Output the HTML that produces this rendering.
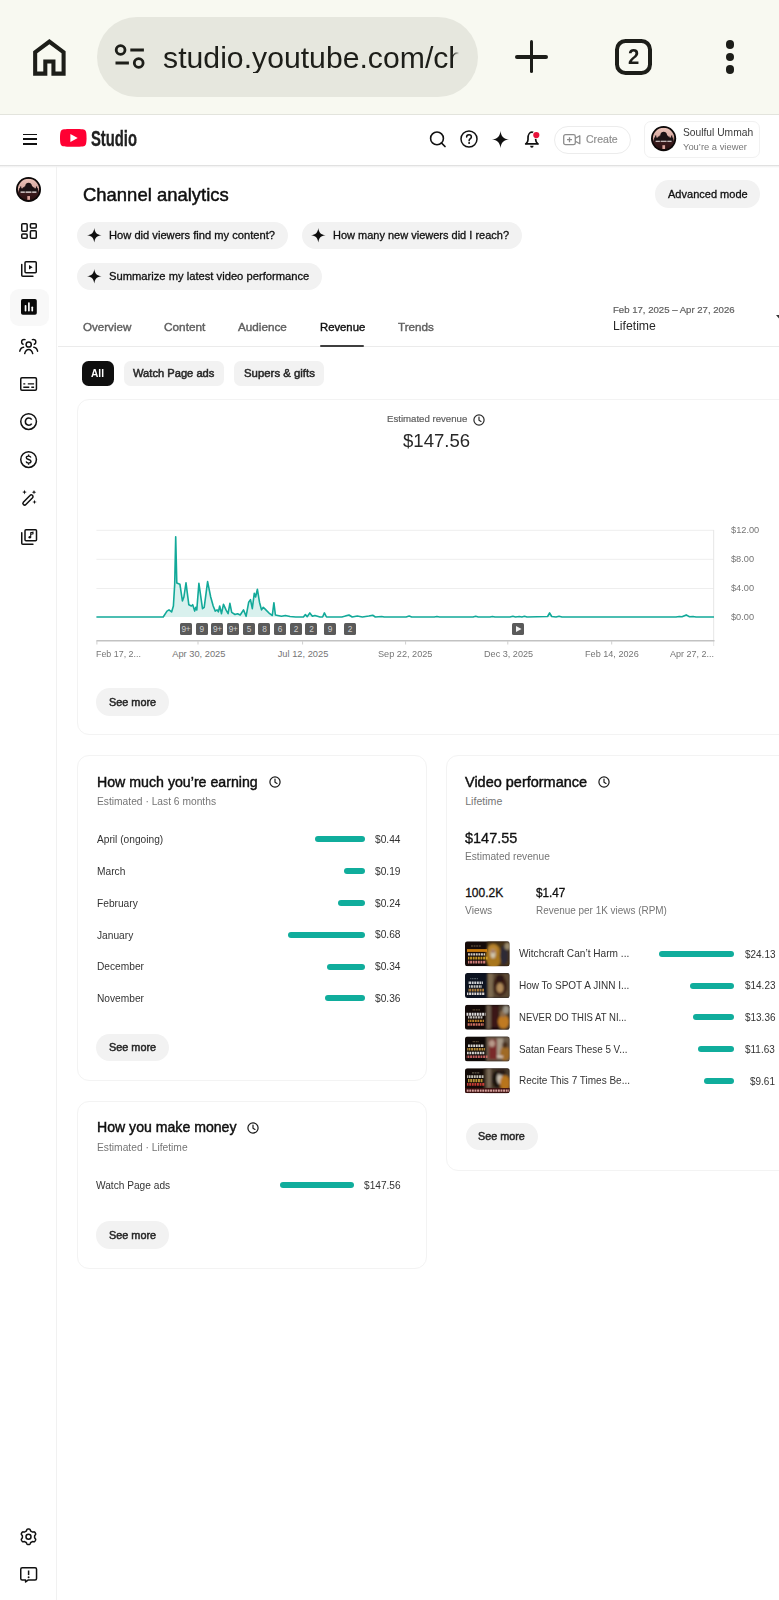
<!DOCTYPE html>
<html><head><meta charset="utf-8">
<style>
html,body{margin:0;padding:0;}
body{width:779px;height:1600px;overflow:hidden;background:#fff;font-family:"Liberation Sans",sans-serif;color:#0f0f0f;position:relative;}
.a{position:absolute;}
.t{position:absolute;white-space:pre;line-height:1;transform-origin:0 0;}
.pill{position:absolute;background:#f2f2f2;border-radius:14px;}
.card{position:absolute;border:1.5px solid #f3f3f3;border-radius:12px;background:#fff;box-sizing:border-box;}
.bar{position:absolute;height:6px;border-radius:3px;background:#10ad9c;}
.mk{position:absolute;width:12px;height:11.6px;top:623.4px;border-radius:1.5px;background:#5a5a5a;color:#cfcfcf;font-size:8.300px;line-height:13px;text-align:center;letter-spacing:-0.300px;}
svg{position:absolute;overflow:visible;}
</style></head><body>
<!-- ===== Browser chrome ===== -->
<div class="a" style="left:0;top:0;width:779px;height:114px;background:#f8f9f1;"></div>
<div class="a" style="left:0;top:113.600px;width:779px;height:2px;background:#e3e4dd;"></div>
<div class="a" style="left:97px;top:17px;width:381px;height:80px;border-radius:40px;background:#e6e7de;"></div>
<svg style="left:24.6px;top:32.9px;" width="48.75" height="48.75" viewBox="0 0 24 24"><path fill="#1d1e19" d="M6 19h3v-6h6v6h3v-9l-6-4.5L6 10v9Zm-2 2V9l8-6 8 6v12h-7v-6h-2v6H4Z"/></svg>
<svg style="left:113px;top:42px;" width="36" height="30" viewBox="0 0 36 30">
 <circle cx="7.6" cy="8" r="4.4" fill="none" stroke="#1d1e19" stroke-width="2.8"/>
 <rect x="17.3" y="6.5" width="13.6" height="3" fill="#1d1e19"/>
 <rect x="2.5" y="19.5" width="13.4" height="3" fill="#1d1e19"/>
 <circle cx="25.7" cy="21" r="4.4" fill="none" stroke="#1d1e19" stroke-width="2.8"/>
</svg>
<div class="t" style="left:163.1px;top:42.83px;font-size:30.2px;color:#1d1e19;width:296px;overflow:hidden;-webkit-mask-image:linear-gradient(90deg,#000 0,#000 290px,transparent 296px);mask-image:linear-gradient(90deg,#000 0,#000 290px,transparent 296px);">studio.youtube.com/channel</div>
<div class="a" style="left:515px;top:55px;width:33px;height:3.6px;border-radius:2px;background:#1d1e19;"></div>
<div class="a" style="left:529.7px;top:40.3px;width:3.6px;height:33px;border-radius:2px;background:#1d1e19;"></div>
<div class="a" style="left:615.100px;top:38.500px;width:36.800px;height:36.400px;border:4.200px solid #1d1e19;border-radius:10.500px;box-sizing:border-box;"></div>
<div class="t" style="left:627.900px;top:46.300px;font-size:22px;font-weight:bold;color:#1d1e19;transform:scaleX(0.92);">2</div>
<div class="a" style="left:725.8px;top:40.2px;width:8.4px;height:8.4px;border-radius:50%;background:#1d1e19;"></div>
<div class="a" style="left:725.8px;top:52.8px;width:8.4px;height:8.4px;border-radius:50%;background:#1d1e19;"></div>
<div class="a" style="left:725.8px;top:65.2px;width:8.4px;height:8.4px;border-radius:50%;background:#1d1e19;"></div>

<!-- ===== Studio header ===== -->
<div class="a" style="left:0;top:115px;width:779px;height:50px;background:#fff;"></div>
<div class="a" style="left:0;top:164.700px;width:779px;height:1.200px;background:#e1e1e1;"></div>
<div class="a" style="left:0;top:165.900px;width:779px;height:2.500px;background:linear-gradient(#f0f0f0,#ffffff);"></div>
<!-- hamburger -->
<div class="a" style="left:23px;top:133.6px;width:14px;height:1.6px;background:#111;"></div>
<div class="a" style="left:23px;top:138.4px;width:14px;height:1.6px;background:#111;"></div>
<div class="a" style="left:23px;top:143.2px;width:14px;height:1.6px;background:#111;"></div>
<!-- yt logo -->
<svg style="left:60.4px;top:129px;" width="26.6" height="17.8" viewBox="0 0 26.6 17.8">
 <path fill="#ff0033" d="M26 2.8C25.7 1.7 24.8.8 23.7.5 21.6 0 13.3 0 13.3 0S5 0 2.9.5C1.8.8.9 1.7.6 2.8 0 4.9 0 8.9 0 8.9s0 4 .6 6.1c.3 1.1 1.2 2 2.3 2.3 2.1.5 10.4.5 10.4.5s8.3 0 10.4-.5c1.100-.3 2-1.200 2.300-2.300.6-2.100.6-6.100.6-6.100s0-4-.6-6.100z"/>
 <path fill="#fff" d="M10.400 12.900 17.700 8.900 10.400 4.900z"/>
</svg>
<!-- search -->
<svg style="left:427px;top:129px;" width="20" height="20" viewBox="0 0 20 20"><circle cx="10" cy="9.400" r="6.400" fill="none" stroke="#111" stroke-width="1.600"/><path d="M14.500 14 18 17.500" stroke="#111" stroke-width="1.700" stroke-linecap="round"/></svg>
<!-- help -->
<svg style="left:459.4px;top:129.2px;" width="20" height="20" viewBox="0 0 20 20"><circle cx="10" cy="10" r="8" fill="none" stroke="#111" stroke-width="1.500"/><path d="M7.600 8c0-1.400 1.100-2.300 2.400-2.300s2.400.9 2.400 2.200c0 1.700-2.300 1.900-2.300 3.900" fill="none" stroke="#111" stroke-width="1.500" stroke-linecap="round"/><circle cx="10.100" cy="14.100" r="1" fill="#111"/></svg>
<!-- sparkle -->
<svg style="left:492px;top:130.500px;" width="17" height="17" viewBox="-8.500 -8.500 17 17"><path fill="#111" d="M0-8.500C.7-3 3-.7 8.500 0 3 .7.700 3 0 8.500-.7 3-3 .7-8.500 0-3-.7-.7-3 0-8.500z"/></svg>
<!-- bell -->
<svg style="left:522px;top:129px;" width="20" height="20" viewBox="0 0 20 20">
 <path d="M3.900 14.900C5.500 13.600 6 12.400 6 10.800V9a3.850 5.800 0 0 1 7.700 0v1.800c0 1.600.5 2.800 2.100 4.100" fill="none" stroke="#111" stroke-width="1.700" stroke-linejoin="round"/>
 <path d="M3.700 14.900H16" stroke="#111" stroke-width="1.700" stroke-linecap="round"/>
 <path d="M8.100 16.800a1.750 1.900 0 0 0 3.500 0z" fill="#111"/>
 <circle cx="14.300" cy="6.100" r="4" fill="#fff"/><circle cx="14.300" cy="6.100" r="3.100" fill="#e8113a"/>
</svg>
<!-- create -->
<div class="a" style="left:553.5px;top:125.500px;width:77px;height:28px;border:1px solid #ececec;border-radius:14px;box-sizing:border-box;"></div>
<svg style="left:563px;top:133.800px;" width="18" height="11.400" viewBox="0 0 18 11.400"><rect x=".7" y=".7" width="11.600" height="10" rx="1.800" fill="none" stroke="#8d8d8d" stroke-width="1.300"/><path d="M12.400 4.200 16.800 1.700v8L12.400 7.200" fill="none" stroke="#8d8d8d" stroke-width="1.300" stroke-linejoin="round"/><path d="M6.500 3.200v5M4 5.700h5" stroke="#8d8d8d" stroke-width="1.300"/></svg>
<!-- account -->
<div class="a" style="left:644px;top:120.500px;width:115.500px;height:37.700px;border:1px solid #f1f1f1;border-radius:7px;box-sizing:border-box;"></div>
<svg style="left:650.600px;top:126.200px;" width="25.200" height="25.200" viewBox="-12.600 -12.600 25.200 25.200">
 <defs><clipPath id="avc"><circle r="10.800"/></clipPath><linearGradient id="avg" x1="0" y1="0" x2="0" y2="1"><stop offset="0" stop-color="#ecc4ba"/><stop offset=".50" stop-color="#d3a49c"/><stop offset=".62" stop-color="#3c1c1e"/><stop offset="1" stop-color="#2a1012"/></linearGradient></defs>
 <circle r="12.600" fill="#0c0808"/>
 <g clip-path="url(#avc)"><rect x="-11" y="-11" width="22" height="22" fill="url(#avg)"/>
 <path d="M-9.500 3V-1.200h1V-3h1.200v1.800h1.600v-1h1.400v-.600c.300-.300.700-.400 1-.400v-.500c.300-2 1.600-3.100 3.400-3.100s3.100 1.100 3.400 3.100v.500c.300 0 .700.100 1 .400v.600h1.400v1h1.600V-3h1.200v1.800h1V3z" fill="#1c1214"/>
 <path d="M-8 2.600h4.300M-3 2.600h6M3.700 2.600H8" stroke="#f6ecea" stroke-width="1.100"/>
 <rect x="-1.200" y="6.600" width="2.700" height="3.800" fill="#d9a49c"/></g>
</svg>

<!-- ===== Sidebar ===== -->
<div class="a" style="left:55.600px;top:166px;width:1.600px;height:1434px;background:#f1f1f1;"></div>
<!-- avatar small -->
<svg style="left:16px;top:177.400px;" width="25" height="25" viewBox="-12.600 -12.600 25.200 25.200">
 <defs><clipPath id="avc2"><circle r="10.800"/></clipPath></defs>
 <circle r="12.600" fill="#0c0808"/>
 <g clip-path="url(#avc2)"><rect x="-11" y="-11" width="22" height="22" fill="url(#avg)"/>
 <path d="M-9.500 3V-1.200h1V-3h1.200v1.800h1.600v-1h1.400v-.600c.300-.300.700-.400 1-.400v-.500c.300-2 1.600-3.100 3.400-3.100s3.100 1.100 3.400 3.100v.500c.300 0 .700.100 1 .400v.600h1.400v1h1.600V-3h1.200v1.800h1V3z" fill="#1c1214"/>
 <path d="M-8 2.600h4.300M-3 2.600h6M3.700 2.600H8" stroke="#f6ecea" stroke-width="1.100"/>
 <rect x="-1.200" y="6.600" width="2.700" height="3.800" fill="#d9a49c"/></g>
</svg>
<!-- dashboard -->
<svg style="left:21px;top:223.200px;" width="16" height="16" viewBox="0 0 16 16" fill="none" stroke="#111" stroke-width="1.500">
 <rect x=".75" y=".75" width="5.400" height="7.600" rx="1"/><rect x="9.400" y=".75" width="5.850" height="4.300" rx="1"/>
 <rect x=".75" y="11" width="5.400" height="4.250" rx="1"/><rect x="9.400" y="7.700" width="5.850" height="7.550" rx="1"/>
</svg>
<!-- content -->
<svg style="left:21px;top:261.400px;" width="16" height="16" viewBox="0 0 16 16" fill="none" stroke="#111" stroke-width="1.500">
 <rect x="4" y=".75" width="11.250" height="11" rx="1"/><path d="M.75 3.600v10.600c0 .6.400 1 1 1h10.200" stroke-linecap="round"/>
 <path d="M8 3.900v4.700l3.600-2.350z" fill="#111" stroke="none"/>
</svg>
<!-- analytics (active) -->
<div class="a" style="left:10px;top:289px;width:39px;height:37px;border-radius:9px;background:#f8f8f8;"></div>
<svg style="left:21px;top:299.300px;" width="16" height="16" viewBox="0 0 16 16">
 <rect x="0" y="0" width="15.800" height="15.700" rx="1.800" fill="#0a0a0a"/>
 <rect x="3.700" y="6" width="1.700" height="6.500" rx=".8" fill="#fff"/><rect x="7.050" y="3.200" width="1.700" height="9.300" rx=".8" fill="#fff"/><rect x="10.400" y="7.500" width="1.700" height="5" rx=".8" fill="#fff"/>
</svg>
<!-- community -->
<svg style="left:19px;top:337.500px;" width="20" height="17" viewBox="0 0 20 17" fill="none" stroke="#111" stroke-width="1.500" stroke-linecap="round">
 <circle cx="9.700" cy="6.500" r="2.600"/>
 <path d="M5.700 15.600c.6-2.600 2-4.200 4-4.200s3.400 1.600 4 4.200"/>
 <path d="M6 1.600C4 1 2.600 2.300 2.600 3.900c0 1.100.6 2 1.500 2.400"/>
 <path d="M13.400 1.600c2-.6 3.400.7 3.400 2.300 0 1.100-.6 2-1.500 2.400"/>
 <path d="M.8 13.200c.5-2.300 1.800-3.800 3.800-4"/>
 <path d="M18.600 13.200c-.5-2.300-1.800-3.800-3.800-4"/>
</svg>
<!-- subtitles -->
<svg style="left:20.200px;top:376.700px;" width="17.200" height="14" viewBox="0 0 17.200 14" fill="none" stroke="#111" stroke-width="1.500">
 <rect x=".75" y=".75" width="15.700" height="12.500" rx="1.200"/>
 <path d="M3.300 6.900h2M7.800 6.900h6.300M3.300 10.200h6M11.300 10.200h2.800" stroke-width="1.400"/>
</svg>
<!-- copyright -->
<svg style="left:20.200px;top:413.200px;" width="17.200" height="17.200" viewBox="0 0 17.200 17.200" fill="none" stroke="#111" stroke-width="1.500">
 <circle cx="8.600" cy="8.600" r="7.850"/><path d="M11.700 6.600c-.6-1-1.600-1.600-2.900-1.600-2 0-3.400 1.500-3.400 3.600s1.400 3.600 3.400 3.600c1.300 0 2.300-.6 2.900-1.600" stroke-width="1.600"/>
</svg>
<!-- earn -->
<svg style="left:20.200px;top:451.400px;" width="17.200" height="17.200" viewBox="0 0 17.200 17.200" fill="none" stroke="#111" stroke-width="1.500">
 <circle cx="8.600" cy="8.600" r="7.850"/>
 <path d="M10.900 6.500c-.3-.9-1.200-1.400-2.300-1.400-1.300 0-2.300.7-2.300 1.700 0 2.400 4.700 1 4.700 3.500 0 1.100-1 1.800-2.400 1.800-1.200 0-2.200-.6-2.500-1.600M8.600 3.500v1.600M8.600 12.100v1.600" stroke-width="1.400"/>
</svg>
<!-- magic wand -->
<svg style="left:21px;top:489px;" width="17" height="17" viewBox="0 0 17 17">
 <path d="M2.200 15.300c-.7-.7-.7-1.700 0-2.400L9.300 6.600c.7-.7 1.700-.700 2.400 0s.7 1.700 0 2.400L4.600 15.300c-.7.700-1.700.7-2.400 0z" fill="none" stroke="#111" stroke-width="1.500" transform="rotate(-4 7 11)"/>
 <path d="M3.500.8l.6 1.700 1.700.6-1.700.6-.6 1.700-.6-1.700L1.200 3.100l1.700-.6zM13 .9l.6 1.700 1.700.6-1.700.6L13 5.500l-.6-1.700-1.700-.6 1.700-.6zM13.500 10.700l.6 1.700 1.700.6-1.700.6-.6 1.700-.6-1.700-1.700-.6 1.700-.6z" fill="#111"/>
</svg>
<!-- audio library -->
<svg style="left:21px;top:528.800px;" width="16.500" height="16" viewBox="0 0 16.500 16" fill="none" stroke="#111" stroke-width="1.500">
 <rect x="4" y=".75" width="11.500" height="11" rx="1"/><path d="M.75 3.800v10.400c0 .6.400 1 1 1h10.200" stroke-linecap="round"/>
 <circle cx="8.800" cy="8.300" r="1.300" fill="#111" stroke="none"/><path d="M9.700 8.300V3.700l2.300-.5v1.600l-1.700.4" stroke-width="1.100" fill="none"/>
</svg>
<!-- settings -->
<svg style="left:20.200px;top:1527.500px;" width="17" height="17.600" viewBox="-8.500 -8.800 17 17.600" fill="none" stroke="#111" stroke-width="1.500" stroke-linejoin="round">
 <path d="M6.10 -0.00L6.10 -0.40L6.10 -0.80L6.23 -1.24L6.71 -1.80L7.15 -2.43L7.16 -2.96L6.99 -3.45L6.75 -3.90L6.48 -4.33L6.15 -4.72L5.68 -4.98L4.91 -4.91L4.19 -4.78L3.75 -4.88L3.39 -5.08L3.05 -5.28L2.70 -5.48L2.35 -5.68L2.04 -6.01L1.80 -6.71L1.47 -7.40L1.01 -7.68L0.51 -7.78L0.00 -7.80L-0.51 -7.78L-1.01 -7.68L-1.47 -7.40L-1.80 -6.71L-2.04 -6.01L-2.35 -5.68L-2.70 -5.48L-3.05 -5.28L-3.39 -5.08L-3.75 -4.88L-4.19 -4.78L-4.91 -4.91L-5.68 -4.98L-6.15 -4.72L-6.48 -4.33L-6.75 -3.90L-6.99 -3.45L-7.16 -2.96L-7.15 -2.43L-6.71 -1.80L-6.23 -1.24L-6.10 -0.80L-6.10 -0.40L-6.10 -0.00L-6.10 0.40L-6.10 0.80L-6.23 1.24L-6.71 1.80L-7.15 2.43L-7.16 2.96L-6.99 3.45L-6.75 3.90L-6.48 4.33L-6.15 4.72L-5.68 4.98L-4.91 4.91L-4.19 4.78L-3.75 4.88L-3.39 5.08L-3.05 5.28L-2.70 5.48L-2.35 5.68L-2.04 6.01L-1.80 6.71L-1.47 7.40L-1.01 7.68L-0.51 7.78L-0.00 7.80L0.51 7.78L1.01 7.68L1.47 7.40L1.80 6.71L2.04 6.01L2.35 5.68L2.70 5.48L3.05 5.28L3.39 5.08L3.75 4.88L4.19 4.78L4.91 4.91L5.68 4.98L6.15 4.72L6.48 4.33L6.75 3.90L6.99 3.45L7.16 2.96L7.15 2.43L6.71 1.80L6.23 1.24L6.10 0.80L6.10 0.40Z"/>
 <circle r="2.500"/>
</svg>
<!-- feedback -->
<svg style="left:20.200px;top:1567.200px;" width="17.300" height="15.800" viewBox="0 0 17.300 15.800" fill="none" stroke="#111" stroke-width="1.500" stroke-linejoin="round">
 <path d="M2.200.75h12.900c.8 0 1.450.65 1.450 1.450v9.300c0 .8-.65 1.450-1.450 1.450H8.300L5.600 15v-2.050H2.200c-.8 0-1.450-.65-1.450-1.450V2.200c0-.8.650-1.450 1.450-1.450z"/>
 <path d="M8.600 3.500v4.600" stroke-width="1.500"/><circle cx="8.600" cy="10.300" r=".95" fill="#111" stroke="none"/>
</svg>
<div class="pill" style="left:654.600px;top:180.200px;width:105.500px;height:27.600px;border-radius:13.800px;"></div>
<div class="pill" style="left:77.300px;top:221.600px;width:211px;height:27.600px;border-radius:13.800px;"></div>
<div class="pill" style="left:301.700px;top:221.600px;width:220px;height:27.600px;border-radius:13.800px;"></div>
<div class="pill" style="left:77.300px;top:262.600px;width:244.400px;height:27.600px;border-radius:13.800px;"></div>
<svg style="left:86.7px;top:228.2px;" width="14.600" height="14.600" viewBox="-7.300 -7.300 14.600 14.600"><path fill="#0f0f0f" d="M0-7.300C.6-2.600 2.600-.6 7.300 0 2.600.6.600 2.600 0 7.300-.6 2.600-2.600.6-7.300 0-2.600-.6-.6-2.600 0-7.300z"/></svg>
<svg style="left:311.0px;top:228.2px;" width="14.600" height="14.600" viewBox="-7.300 -7.300 14.600 14.600"><path fill="#0f0f0f" d="M0-7.300C.6-2.600 2.600-.6 7.300 0 2.600.6.600 2.600 0 7.300-.6 2.600-2.600.6-7.300 0-2.600-.6-.6-2.600 0-7.300z"/></svg>
<svg style="left:86.7px;top:269.2px;" width="14.600" height="14.600" viewBox="-7.300 -7.300 14.600 14.600"><path fill="#0f0f0f" d="M0-7.300C.6-2.600 2.600-.6 7.300 0 2.600.6.600 2.600 0 7.300-.6 2.600-2.600.6-7.300 0-2.600-.6-.6-2.600 0-7.300z"/></svg>
<div class="a" style="left:58px;top:346px;width:721px;height:1px;background:#ebebeb;"></div>
<div class="a" style="left:319.600px;top:344.800px;width:44.800px;height:2.600px;border-radius:1px;background:#3f3f3f;"></div>
<svg style="left:775.500px;top:315.300px;" width="8" height="5" viewBox="0 0 8 5"><path d="M0 0h8L4 4.500z" fill="#333"/></svg>
<div class="a" style="left:81.500px;top:360.900px;width:32.500px;height:24.700px;border-radius:6.500px;background:#0f0f0f;"></div>
<div class="a" style="left:123.800px;top:360.900px;width:100px;height:24.700px;border-radius:6.500px;background:#f2f2f2;"></div>
<div class="a" style="left:234.300px;top:360.900px;width:89.500px;height:24.700px;border-radius:6.500px;background:#f2f2f2;"></div>
<div class="card" style="left:77px;top:755px;width:349.500px;height:326px;"></div>
<div class="card" style="left:77px;top:1100.500px;width:349.500px;height:168px;"></div>
<div class="card" style="left:445.500px;top:755px;width:360px;height:415.800px;"></div>
<div class="card" style="left:77px;top:398.500px;width:730px;height:336.500px;"></div>
<svg style="left:473.2px;top:413.5px;" width="12" height="12" viewBox="-6 -6 12 12" fill="none" stroke="#2a2a2a" stroke-width="1.200"><circle r="5.100"/><path d="M0-2.900V.2L2 1.400" stroke-linecap="round" stroke-linejoin="round"/></svg>
<svg style="left:0;top:0;" width="779" height="700" viewBox="0 0 779 700">
<path d="M96.400 530.3H714" stroke="#eeeeee" stroke-width="1"/>
<path d="M96.400 559.3H714" stroke="#eeeeee" stroke-width="1"/>
<path d="M96.400 588.5H714" stroke="#eeeeee" stroke-width="1"/>
<path d="M713.700 530V646" stroke="#e6e6e6" stroke-width="1"/>
<path d="M96.4 617.0 L163.2 617.0 L167.0 611.1 L169.0 609.9 L171.6 611.9 L173.4 606.0 L174.7 584.2 L175.7 536.7 L176.8 582.9 L179.9 584.2 L182.4 600.9 L183.9 597.0 L186.0 582.9 L188.8 604.7 L191.4 606.0 L192.7 604.7 L194.7 611.1 L195.8 607.3 L196.8 609.9 L198.9 583.4 L202.5 608.6 L204.2 607.3 L207.6 581.6 L210.7 597.0 L213.2 606.0 L215.3 611.1 L217.1 609.9 L218.4 611.9 L219.7 606.0 L221.5 613.7 L223.5 604.2 L226.0 609.9 L228.1 613.7 L229.9 603.4 L231.7 612.4 L235.0 614.5 L237.6 613.7 L240.2 615.0 L243.5 609.9 L246.1 616.3 L248.7 602.2 L250.5 599.6 L252.3 608.6 L254.3 593.2 L255.6 597.0 L257.4 589.3 L259.5 602.2 L261.5 609.9 L263.3 607.3 L265.9 609.9 L269.7 613.7 L272.3 615.5 L273.9 602.7 L275.4 615.0 L277.7 615.5 L281.5 616.3 L285.4 615.5 L290.0 616.5 L295.7 617.0 L303.4 617.0 L305.4 614.5 L307.2 616.7 L309.8 612.9 L312.4 616.3 L314.9 615.5 L320.0 617.0 L322.6 617.0 L324.4 612.9 L326.5 617.0 L341.9 617.0 L344.5 616.3 L347.0 615.5 L349.0 615.0 L352.2 617.0 L357.3 616.0 L362.4 617.0 L368.8 616.0 L372.7 615.2 L375.3 617.0 L381.7 616.5 L384.2 617.0 L406.1 617.0 L409.2 616.0 L411.7 617.0 L434.3 617.0 L436.9 616.5 L439.5 617.0 L473.0 617.0 L475.7 616.3 L478.3 617.0 L490.0 617.0 L492.4 616.5 L495.0 617.0 L510.0 617.0 L512.9 616.3 L515.5 617.0 L519.3 616.5 L521.9 617.0 L524.5 616.3 L527.0 617.0 L547.6 616.5 L549.6 612.9 L551.7 616.5 L556.0 617.0 L559.1 616.3 L562.0 617.0 L676.0 617.0 L679.3 616.5 L682.0 616.7 L686.2 614.9 L689.5 616.7 L693.0 616.5 L696.0 617.0 L714.0 617.0 L714 617 L96.400 617Z" fill="#d9f1ee" stroke="none"/>
<path d="M96.4 617.0 L163.2 617.0 L167.0 611.1 L169.0 609.9 L171.6 611.9 L173.4 606.0 L174.7 584.2 L175.7 536.7 L176.8 582.9 L179.9 584.2 L182.4 600.9 L183.9 597.0 L186.0 582.9 L188.8 604.7 L191.4 606.0 L192.7 604.7 L194.7 611.1 L195.8 607.3 L196.8 609.9 L198.9 583.4 L202.5 608.6 L204.2 607.3 L207.6 581.6 L210.7 597.0 L213.2 606.0 L215.3 611.1 L217.1 609.9 L218.4 611.9 L219.7 606.0 L221.5 613.7 L223.5 604.2 L226.0 609.9 L228.1 613.7 L229.9 603.4 L231.7 612.4 L235.0 614.5 L237.6 613.7 L240.2 615.0 L243.5 609.9 L246.1 616.3 L248.7 602.2 L250.5 599.6 L252.3 608.6 L254.3 593.2 L255.6 597.0 L257.4 589.3 L259.5 602.2 L261.5 609.9 L263.3 607.3 L265.9 609.9 L269.7 613.7 L272.3 615.5 L273.9 602.7 L275.4 615.0 L277.7 615.5 L281.5 616.3 L285.4 615.5 L290.0 616.5 L295.7 617.0 L303.4 617.0 L305.4 614.5 L307.2 616.7 L309.8 612.9 L312.4 616.3 L314.9 615.5 L320.0 617.0 L322.6 617.0 L324.4 612.9 L326.5 617.0 L341.9 617.0 L344.5 616.3 L347.0 615.5 L349.0 615.0 L352.2 617.0 L357.3 616.0 L362.4 617.0 L368.8 616.0 L372.7 615.2 L375.3 617.0 L381.7 616.5 L384.2 617.0 L406.1 617.0 L409.2 616.0 L411.7 617.0 L434.3 617.0 L436.9 616.5 L439.5 617.0 L473.0 617.0 L475.7 616.3 L478.3 617.0 L490.0 617.0 L492.4 616.5 L495.0 617.0 L510.0 617.0 L512.9 616.3 L515.5 617.0 L519.3 616.5 L521.9 617.0 L524.5 616.3 L527.0 617.0 L547.6 616.5 L549.6 612.9 L551.7 616.5 L556.0 617.0 L559.1 616.3 L562.0 617.0 L676.0 617.0 L679.3 616.5 L682.0 616.7 L686.2 614.9 L689.5 616.7 L693.0 616.5 L696.0 617.0 L714.0 617.0" fill="none" stroke="#12a999" stroke-width="1.600" stroke-linejoin="round"/>
<path d="M96.400 640.800H714.500" stroke="#c2c2c2" stroke-width="1.500"/>
<path d="M96.9 641V644.500" stroke="#cfcfcf" stroke-width="1"/>
<path d="M198 641V644.500" stroke="#cfcfcf" stroke-width="1"/>
<path d="M302.6 641V644.500" stroke="#cfcfcf" stroke-width="1"/>
<path d="M405.6 641V644.500" stroke="#cfcfcf" stroke-width="1"/>
<path d="M507.8 641V644.500" stroke="#cfcfcf" stroke-width="1"/>
<path d="M611.7 641V644.500" stroke="#cfcfcf" stroke-width="1"/>
</svg>
<div class="mk" style="left:179.9px;">9+</div>
<div class="mk" style="left:195.7px;">9</div>
<div class="mk" style="left:211.4px;">9+</div>
<div class="mk" style="left:227.1px;">9+</div>
<div class="mk" style="left:242.8px;">5</div>
<div class="mk" style="left:258.4px;">8</div>
<div class="mk" style="left:274.0px;">6</div>
<div class="mk" style="left:289.8px;">2</div>
<div class="mk" style="left:305.3px;">2</div>
<div class="mk" style="left:324px;">9</div>
<div class="mk" style="left:343.8px;">2</div>
<div class="mk" style="left:512px;"></div><svg style="left:515.700px;top:626.300px;" width="5.500" height="6" viewBox="0 0 5.500 6"><path d="M0 0v6l5.500-3z" fill="#f0f0f0"/></svg>
<div class="pill" style="left:96.3px;top:688px;width:72.600px;height:27.600px;border-radius:13.800px;"></div>
<div class="pill" style="left:96.3px;top:1033.8px;width:72.600px;height:27.600px;border-radius:13.800px;"></div>
<div class="pill" style="left:96.3px;top:1221px;width:72.600px;height:27.600px;border-radius:13.800px;"></div>
<div class="pill" style="left:465.5px;top:1122.5px;width:72.600px;height:27.600px;border-radius:13.800px;"></div>
<svg style="left:268.8px;top:776.3px;" width="12" height="12" viewBox="-6 -6 12 12" fill="none" stroke="#1a1a1a" stroke-width="1.200"><circle r="5.100"/><path d="M0-2.900V.2L2 1.400" stroke-linecap="round" stroke-linejoin="round"/></svg>
<svg style="left:247px;top:1122.4px;" width="12" height="12" viewBox="-6 -6 12 12" fill="none" stroke="#1a1a1a" stroke-width="1.200"><circle r="5.100"/><path d="M0-2.900V.2L2 1.400" stroke-linecap="round" stroke-linejoin="round"/></svg>
<svg style="left:597.6px;top:776px;" width="12" height="12" viewBox="-6 -6 12 12" fill="none" stroke="#1a1a1a" stroke-width="1.200"><circle r="5.100"/><path d="M0-2.900V.2L2 1.400" stroke-linecap="round" stroke-linejoin="round"/></svg>
<div class="bar" style="left:315.2px;top:836.2px;width:49.7px;"></div>
<div class="bar" style="left:344.2px;top:868.3px;width:20.7px;"></div>
<div class="bar" style="left:337.7px;top:900.2px;width:27.2px;"></div>
<div class="bar" style="left:288.1px;top:931.8px;width:76.8px;"></div>
<div class="bar" style="left:326.7px;top:963.5px;width:38.2px;"></div>
<div class="bar" style="left:325px;top:995.3px;width:39.9px;"></div>
<div class="bar" style="left:280px;top:1182.200px;width:73.600px;"></div>
<div class="bar" style="left:658.7px;top:950.9px;width:75.0px;"></div>
<div class="bar" style="left:690px;top:982.7px;width:43.7px;"></div>
<div class="bar" style="left:692.6px;top:1014.4px;width:41.1px;"></div>
<div class="bar" style="left:698.2px;top:1046.2px;width:35.5px;"></div>
<div class="bar" style="left:704.2px;top:1078.1px;width:29.5px;"></div>
<svg style="left:0;top:0;" width="779" height="1100" viewBox="0 0 779 1100">
<defs><filter id="bl" x="-10%" y="-10%" width="120%" height="120%"><feGaussianBlur stdDeviation="0.45"/></filter><filter id="bl2"><feGaussianBlur stdDeviation="1.300"/></filter>
<clipPath id="tc0"><rect x="465" y="941.3" width="44.600" height="25" rx="2.500"/></clipPath>
<clipPath id="tc1"><rect x="465" y="973" width="44.600" height="25" rx="2.500"/></clipPath>
<clipPath id="tc2"><rect x="465" y="1004.7" width="44.600" height="25" rx="2.500"/></clipPath>
<clipPath id="tc3"><rect x="465" y="1036.4" width="44.600" height="25" rx="2.500"/></clipPath>
<clipPath id="tc4"><rect x="465" y="1068.2" width="44.600" height="25" rx="2.500"/></clipPath>
</defs>
<g clip-path="url(#tc0)">
<rect x="465" y="941.3" width="44.600" height="25" fill="#150a08"/>
<g filter="url(#bl2)"><rect x="487" y="941.3" width="23" height="25" fill="#4a3418"/><ellipse cx="493.500" cy="956.3" rx="8" ry="12" fill="#a8761e"/><ellipse cx="493" cy="948.8" rx="5" ry="4.500" fill="#b8842e"/><ellipse cx="493" cy="953.8" rx="2.600" ry="4.500" fill="#cfc4ac"/><ellipse cx="493" cy="951.3" rx="2" ry="1.600" fill="#9a6a5a"/><ellipse cx="504" cy="955.3" rx="4.200" ry="10" fill="#2e2c36"/><ellipse cx="507.500" cy="946.3" rx="3" ry="3.500" fill="#9a8a6a"/></g>
<g filter="url(#bl)">
<path d="M471 946.05h10" stroke="#5a4a38" stroke-width="1.5" stroke-dasharray="1.900 .700" stroke-dashoffset="0.0" opacity=".9"/>
<path d="M467 950.50h20" stroke="#e08a12" stroke-width="2.8"  opacity=".9"/>
<path d="M468 954.45h17" stroke="#e8e2d6" stroke-width="2.3" stroke-dasharray="1.900 .700" stroke-dashoffset="0.0" opacity=".9"/>
<path d="M468 958.20h20" stroke="#d7a62a" stroke-width="2.8" stroke-dasharray="1.900 .700" stroke-dashoffset="0.5" opacity=".9"/>
<path d="M468 962.20h18" stroke="#e58a86" stroke-width="2.8" stroke-dasharray="1.900 .700" stroke-dashoffset="0.5" opacity=".9"/>
</g>

</g>
<g clip-path="url(#tc1)">
<rect x="465" y="973" width="44.600" height="25" fill="#0d1320"/>
<g filter="url(#bl2)"><rect x="487" y="973" width="23" height="25" fill="#5a4630"/><rect x="488" y="973" width="5" height="25" fill="#7d6a50"/><ellipse cx="500" cy="986" rx="7" ry="10" fill="#3a1e12"/><ellipse cx="500" cy="988" rx="3.500" ry="5" fill="#b08a5a"/><ellipse cx="500" cy="978" rx="4" ry="3.500" fill="#2a1412"/></g>
<g filter="url(#bl)">
<path d="M470 978.65h8" stroke="#56606a" stroke-width="1.3" stroke-dasharray="1.900 .700" stroke-dashoffset="1.0" opacity=".9"/>
<path d="M468 982.80h15" stroke="#e6e8ea" stroke-width="2.6" stroke-dasharray="1.900 .700" stroke-dashoffset="1.5" opacity=".9"/>
<path d="M469 986.50h13" stroke="#d8d8d2" stroke-width="2.6" stroke-dasharray="1.900 .700" stroke-dashoffset="0.6" opacity=".9"/>
<path d="M468 990.10h16" stroke="#c0883a" stroke-width="2.6" stroke-dasharray="1.900 .700" stroke-dashoffset="1.4" opacity=".9"/>
<path d="M467 993.80h18" stroke="#f0e8e4" stroke-width="2.6" stroke-dasharray="1.900 .700" stroke-dashoffset="0.5" opacity=".9"/>
</g>

</g>
<g clip-path="url(#tc2)">
<rect x="465" y="1004.7" width="44.600" height="25" fill="#120908"/>
<g filter="url(#bl2)"><rect x="486" y="1004.7" width="5" height="25" fill="#6a5a48"/><rect x="491" y="1005.7" width="8" height="22" fill="#3a1418"/><rect x="499" y="1004.7" width="11" height="25" fill="#4a3a2c"/><ellipse cx="503.500" cy="1021.7" rx="5.500" ry="7" fill="#c07a22"/><ellipse cx="503" cy="1013.7" rx="3" ry="3.500" fill="#8a6a4a"/><ellipse cx="506" cy="1009.7" rx="3" ry="4" fill="#9a9488"/></g>
<g filter="url(#bl)">
<path d="M472 1009.85h8" stroke="#5a4a30" stroke-width="1.3" stroke-dasharray="1.900 .700" stroke-dashoffset="1.5" opacity=".9"/>
<path d="M466.5 1014.20h19" stroke="#f0f0f0" stroke-width="3" stroke-dasharray="1.900 .700" stroke-dashoffset="0.0" opacity=".9"/>
<path d="M468 1017.30h15" stroke="#d8d4cc" stroke-width="2.2" stroke-dasharray="1.900 .700" stroke-dashoffset="0.5" opacity=".9"/>
<path d="M468 1020.90h16" stroke="#c98a2a" stroke-width="2.4" stroke-dasharray="1.900 .700" stroke-dashoffset="1.0" opacity=".9"/>
<path d="M467 1024.50h17" stroke="#e07a6a" stroke-width="2.4" stroke-dasharray="1.900 .700" stroke-dashoffset="1.8" opacity=".9"/>
</g>

</g>
<g clip-path="url(#tc3)">
<rect x="465" y="1036.4" width="44.600" height="25" fill="#100a08"/>
<g filter="url(#bl2)"><rect x="486" y="1036.4" width="24" height="25" fill="#6a5a48"/><rect x="489" y="1039.4" width="8" height="20" fill="#7a2a2a"/><ellipse cx="492" cy="1043.4" rx="3" ry="3.500" fill="#b89a8a"/><rect x="497" y="1038.4" width="6" height="18" fill="#a89a88"/><ellipse cx="505" cy="1053.4" rx="5" ry="7.500" fill="#a06a28"/><ellipse cx="505" cy="1044.9" rx="2.800" ry="3" fill="#4a2e1e"/><rect x="497" y="1055.9" width="6" height="1.800" fill="#e8d8c8"/></g>
<g filter="url(#bl)">
<path d="M472 1041.55h7" stroke="#5a4a38" stroke-width="1.3" stroke-dasharray="1.900 .700" stroke-dashoffset="1.5" opacity=".9"/>
<path d="M468 1045.65h16" stroke="#eceae6" stroke-width="2.5" stroke-dasharray="1.900 .700" stroke-dashoffset="0.0" opacity=".9"/>
<path d="M467 1049.35h18" stroke="#c99a3a" stroke-width="2.5" stroke-dasharray="1.900 .700" stroke-dashoffset="1.1" opacity=".9"/>
<path d="M467 1053.05h18" stroke="#e8e6e2" stroke-width="2.5" stroke-dasharray="1.900 .700" stroke-dashoffset="0.2" opacity=".9"/>
<path d="M466.5 1056.85h21" stroke="#d86a6a" stroke-width="2.5" stroke-dasharray="1.900 .700" stroke-dashoffset="1.6" opacity=".9"/>
</g>

</g>
<g clip-path="url(#tc4)">
<rect x="465" y="1068.2" width="44.600" height="25" fill="#130a08"/>
<g filter="url(#bl2)"><rect x="484" y="1068.2" width="26" height="25" fill="#4a3a2a"/><rect x="487" y="1068.2" width="4" height="20" fill="#7a6a58"/><ellipse cx="497" cy="1079.2" rx="5" ry="9" fill="#1e1410"/><ellipse cx="500" cy="1078.2" rx="3" ry="6" fill="#c8c0b0"/><ellipse cx="505" cy="1083.2" rx="5" ry="8" fill="#b8741e"/><ellipse cx="502" cy="1072.2" rx="4" ry="3" fill="#2a1a14"/></g>
<g filter="url(#bl)">
<path d="M472 1072.85h8" stroke="#6a6250" stroke-width="1.3" stroke-dasharray="1.900 .700" stroke-dashoffset="0.0" opacity=".9"/>
<path d="M467 1076.60h17" stroke="#d8d4c8" stroke-width="2.8" stroke-dasharray="1.900 .700" stroke-dashoffset="1.0" opacity=".9"/>
<path d="M468 1080.60h15" stroke="#c8a03a" stroke-width="3.2" stroke-dasharray="1.900 .700" stroke-dashoffset="0.4" opacity=".9"/>
<path d="M467 1084.40h18" stroke="#d8423a" stroke-width="2.8" stroke-dasharray="1.900 .700" stroke-dashoffset="0.4" opacity=".9"/>
<path d="M465 1090.60h45" stroke="#3a0f10" stroke-width="5.2"  opacity=".9"/>
<path d="M466 1090.60h43" stroke="#e8b0ac" stroke-width="2.2" stroke-dasharray="1.900 .700" stroke-dashoffset="1.9" opacity=".9"/>
</g>

</g>
</svg>

<!-- ===== texts ===== -->
<div class="t" style="top:127.65px;font-size:21.8px;color:#212121;font-weight:700;-webkit-text-stroke:0.3px #212121;left:91.40px;transform:scaleX(0.6785);">Studio</div>
<div class="t" style="top:133.59px;font-size:11px;color:#909090;-webkit-text-stroke:0.2px #909090;left:586.00px;transform:scaleX(0.9597);">Create</div>
<div class="t" style="top:126.79px;font-size:11px;color:#3a3a3a;left:682.60px;transform:scaleX(0.9321);">Soulful Ummah</div>
<div class="t" style="top:142.63px;font-size:9.3px;color:#777777;left:683.00px;transform:scaleX(1.0089);">You’re a viewer</div>
<div class="t" style="top:186.72px;font-size:17.7px;color:#0f0f0f;-webkit-text-stroke:0.45px #0f0f0f;left:83.30px;transform:scaleX(1.0435);">Channel analytics</div>
<div class="t" style="top:188.53px;font-size:11.3px;color:#0f0f0f;-webkit-text-stroke:0.3px #0f0f0f;left:667.60px;transform:scaleX(0.9760);">Advanced mode</div>
<div class="t" style="top:229.73px;font-size:11.3px;color:#0f0f0f;-webkit-text-stroke:0.3px #0f0f0f;left:109.00px;transform:scaleX(0.9864);">How did viewers find my content?</div>
<div class="t" style="top:229.73px;font-size:11.3px;color:#0f0f0f;-webkit-text-stroke:0.3px #0f0f0f;left:333.30px;transform:scaleX(0.9733);">How many new viewers did I reach?</div>
<div class="t" style="top:270.63px;font-size:11.3px;color:#0f0f0f;-webkit-text-stroke:0.3px #0f0f0f;left:109.00px;transform:scaleX(0.9907);">Summarize my latest video performance</div>
<div class="t" style="top:322.47px;font-size:11.5px;color:#606060;-webkit-text-stroke:0.4px #606060;left:83.30px;transform:scaleX(1.0076);">Overview</div>
<div class="t" style="top:322.47px;font-size:11.5px;color:#606060;-webkit-text-stroke:0.4px #606060;left:164.10px;transform:scaleX(1.0253);">Content</div>
<div class="t" style="top:322.47px;font-size:11.5px;color:#606060;-webkit-text-stroke:0.4px #606060;left:238.30px;transform:scaleX(1.0173);">Audience</div>
<div class="t" style="top:322.47px;font-size:11.5px;color:#606060;-webkit-text-stroke:0.4px #606060;left:398.10px;transform:scaleX(1.0148);">Trends</div>
<div class="t" style="top:322.47px;font-size:11.5px;color:#0f0f0f;-webkit-text-stroke:0.4px #0f0f0f;left:319.60px;transform:scaleX(0.9816);">Revenue</div>
<div class="t" style="top:305.73px;font-size:9.3px;color:#606060;-webkit-text-stroke:0.2px #606060;left:612.70px;transform:scaleX(1.0317);">Feb 17, 2025 – Apr 27, 2026</div>
<div class="t" style="top:319.72px;font-size:12.5px;color:#282828;left:612.70px;transform:scaleX(0.9799);">Lifetime</div>
<div class="t" style="top:367.69px;font-size:11px;color:#ffffff;font-weight:700;left:91.30px;transform:scaleX(0.9244);">All</div>
<div class="t" style="top:367.69px;font-size:11px;color:#282828;-webkit-text-stroke:0.5px #282828;left:133.00px;transform:scaleX(1.0135);">Watch Page ads</div>
<div class="t" style="top:367.69px;font-size:11px;color:#282828;-webkit-text-stroke:0.5px #282828;left:243.60px;transform:scaleX(1.0353);">Supers &amp; gifts</div>
<div class="t" style="top:414.63px;font-size:9.3px;color:#606060;-webkit-text-stroke:0.2px #606060;left:386.60px;transform:scaleX(1.0357);">Estimated revenue</div>
<div class="t" style="top:431.35px;font-size:19.2px;color:#282828;left:402.60px;transform:scaleX(0.9674);">$147.56</div>
<div class="t" style="top:525.93px;font-size:9.3px;color:#757575;left:731.00px;transform:scaleX(0.9916);">$12.00</div>
<div class="t" style="top:554.73px;font-size:9.3px;color:#757575;left:731.00px;transform:scaleX(0.9886);">$8.00</div>
<div class="t" style="top:583.93px;font-size:9.3px;color:#757575;left:731.00px;transform:scaleX(0.9886);">$4.00</div>
<div class="t" style="top:612.83px;font-size:9.3px;color:#757575;left:731.00px;transform:scaleX(0.9886);">$0.00</div>
<div class="t" style="top:649.73px;font-size:9.3px;color:#757575;left:96.40px;transform:scaleX(0.9547);">Feb 17, 2...</div>
<div class="t" style="top:649.73px;font-size:9.3px;color:#757575;left:172.20px;">Apr 30, 2025</div>
<div class="t" style="top:649.73px;font-size:9.3px;color:#757575;left:277.70px;">Jul 12, 2025</div>
<div class="t" style="top:649.73px;font-size:9.3px;color:#757575;left:378.10px;transform:scaleX(0.9832);">Sep 22, 2025</div>
<div class="t" style="top:649.73px;font-size:9.3px;color:#757575;left:483.60px;transform:scaleX(0.9792);">Dec 3, 2025</div>
<div class="t" style="top:649.73px;font-size:9.3px;color:#757575;left:585.30px;transform:scaleX(0.9800);">Feb 14, 2026</div>
<div class="t" style="top:649.73px;font-size:9.3px;color:#757575;left:670.10px;transform:scaleX(0.9696);">Apr 27, 2...</div>
<div class="t" style="top:696.69px;font-size:11px;color:#282828;-webkit-text-stroke:0.5px #282828;left:109.30px;transform:scaleX(0.9874);">See more</div>
<div class="t" style="top:775.06px;font-size:14.7px;color:#0f0f0f;-webkit-text-stroke:0.45px #0f0f0f;left:97.00px;transform:scaleX(0.9649);">How much you’re earning</div>
<div class="t" style="top:795.63px;font-size:10.6px;color:#757575;left:97.00px;transform:scaleX(0.9670);">Estimated · Last 6 months</div>
<div class="t" style="top:833.91px;font-size:10.5px;color:#333333;left:96.60px;transform:scaleX(0.9700);">April (ongoing)</div>
<div class="t" style="top:833.83px;font-size:10.6px;color:#333333;left:374.80px;transform:scaleX(0.9617);">$0.44</div>
<div class="t" style="top:866.01px;font-size:10.5px;color:#333333;left:96.60px;transform:scaleX(0.9700);">March</div>
<div class="t" style="top:865.93px;font-size:10.6px;color:#333333;left:374.80px;transform:scaleX(0.9617);">$0.19</div>
<div class="t" style="top:897.91px;font-size:10.5px;color:#333333;left:96.60px;transform:scaleX(0.9700);">February</div>
<div class="t" style="top:897.83px;font-size:10.6px;color:#333333;left:374.80px;transform:scaleX(0.9617);">$0.24</div>
<div class="t" style="top:929.51px;font-size:10.5px;color:#333333;left:96.60px;transform:scaleX(0.9700);">January</div>
<div class="t" style="top:929.43px;font-size:10.6px;color:#333333;left:374.80px;transform:scaleX(0.9617);">$0.68</div>
<div class="t" style="top:961.21px;font-size:10.5px;color:#333333;left:96.60px;transform:scaleX(0.9700);">December</div>
<div class="t" style="top:961.13px;font-size:10.6px;color:#333333;left:374.80px;transform:scaleX(0.9617);">$0.34</div>
<div class="t" style="top:993.01px;font-size:10.5px;color:#333333;left:96.60px;transform:scaleX(0.9700);">November</div>
<div class="t" style="top:992.93px;font-size:10.6px;color:#333333;left:374.80px;transform:scaleX(0.9617);">$0.36</div>
<div class="t" style="top:1041.99px;font-size:11px;color:#282828;-webkit-text-stroke:0.5px #282828;left:109.30px;transform:scaleX(0.9874);">See more</div>
<div class="t" style="top:1120.16px;font-size:14.7px;color:#0f0f0f;-webkit-text-stroke:0.45px #0f0f0f;left:97.00px;transform:scaleX(0.9600);">How you make money</div>
<div class="t" style="top:1141.73px;font-size:10.6px;color:#757575;left:97.00px;transform:scaleX(0.9677);">Estimated · Lifetime</div>
<div class="t" style="top:1179.61px;font-size:10.5px;color:#333333;left:96.10px;transform:scaleX(0.9667);">Watch Page ads</div>
<div class="t" style="top:1179.53px;font-size:10.6px;color:#333333;left:363.60px;transform:scaleX(0.9557);">$147.56</div>
<div class="t" style="top:1229.69px;font-size:11px;color:#282828;-webkit-text-stroke:0.5px #282828;left:109.30px;transform:scaleX(0.9874);">See more</div>
<div class="t" style="top:774.86px;font-size:14.7px;color:#0f0f0f;-webkit-text-stroke:0.45px #0f0f0f;left:465.20px;transform:scaleX(0.9859);">Video performance</div>
<div class="t" style="top:795.53px;font-size:10.6px;color:#757575;left:465.20px;">Lifetime</div>
<div class="t" style="top:829.88px;font-size:15.5px;color:#0f0f0f;-webkit-text-stroke:0.3px #0f0f0f;left:465.20px;transform:scaleX(0.9352);">$147.55</div>
<div class="t" style="top:851.33px;font-size:10.6px;color:#757575;left:465.20px;transform:scaleX(0.9599);">Estimated revenue</div>
<div class="t" style="top:887.14px;font-size:12px;color:#0f0f0f;-webkit-text-stroke:0.3px #0f0f0f;left:465.20px;">100.2K</div>
<div class="t" style="top:887.14px;font-size:12px;color:#0f0f0f;-webkit-text-stroke:0.3px #0f0f0f;left:535.50px;transform:scaleX(0.9757);">$1.47</div>
<div class="t" style="top:905.01px;font-size:10.5px;color:#757575;left:465.20px;transform:scaleX(0.9774);">Views</div>
<div class="t" style="top:905.01px;font-size:10.5px;color:#757575;left:535.50px;transform:scaleX(0.9464);">Revenue per 1K views (RPM)</div>
<div class="t" style="top:948.11px;font-size:10.5px;color:#333333;left:519.20px;transform:scaleX(0.9645);">Witchcraft Can’t Harm ...</div>
<div class="t" style="top:948.53px;font-size:10.6px;color:#333333;left:744.64px;transform:scaleX(0.9400);">$24.13</div>
<div class="t" style="top:979.91px;font-size:10.5px;color:#333333;left:519.20px;transform:scaleX(0.9529);">How To SPOT A JINN I...</div>
<div class="t" style="top:980.33px;font-size:10.6px;color:#333333;left:744.64px;transform:scaleX(0.9400);">$14.23</div>
<div class="t" style="top:1011.71px;font-size:10.5px;color:#333333;left:519.20px;transform:scaleX(0.9075);">NEVER DO THIS AT NI...</div>
<div class="t" style="top:1012.13px;font-size:10.6px;color:#333333;left:744.64px;transform:scaleX(0.9400);">$13.36</div>
<div class="t" style="top:1043.71px;font-size:10.5px;color:#333333;left:519.20px;transform:scaleX(0.9388);">Satan Fears These 5 V...</div>
<div class="t" style="top:1044.13px;font-size:10.6px;color:#333333;left:745.37px;transform:scaleX(0.9400);">$11.63</div>
<div class="t" style="top:1075.31px;font-size:10.5px;color:#333333;left:519.20px;transform:scaleX(0.9527);">Recite This 7 Times Be...</div>
<div class="t" style="top:1075.73px;font-size:10.6px;color:#333333;left:750.18px;transform:scaleX(0.9400);">$9.61</div>
<div class="t" style="top:1131.49px;font-size:11px;color:#282828;-webkit-text-stroke:0.5px #282828;left:478.30px;transform:scaleX(0.9811);">See more</div>
</body></html>
